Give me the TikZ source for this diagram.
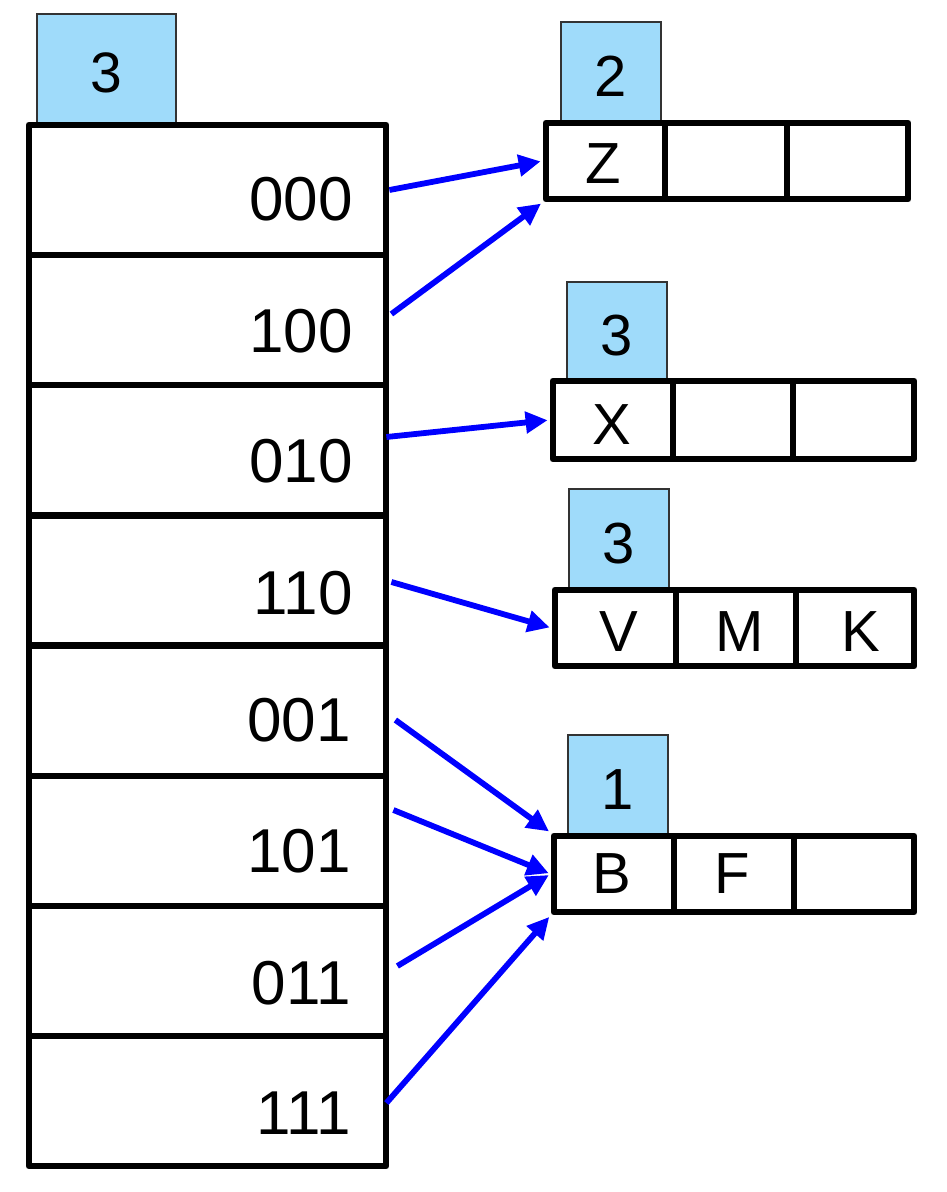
\documentclass[tikz,border=0pt]{standalone}
\usepackage{fontspec}
\setmainfont{Liberation Sans}
\usetikzlibrary{arrows.meta,calc}
\definecolor{depthblue}{HTML}{9FDBFA}
\definecolor{arrowblue}{HTML}{0000FF}
\begin{document}
\begin{tikzpicture}[x=1pt,y=-1pt,
  dirrow/.style={draw=black,line width=6.8pt,line join=round,rectangle,inner sep=0pt,minimum width=357pt,minimum height=130.1pt},
  cellbox/.style={draw=black,line width=6.8pt,line join=round,rectangle,inner sep=0pt,minimum height=76pt},
  depthbox/.style={draw=black!80,fill=depthblue,line width=1.4pt,rectangle,inner sep=0pt},
  dirlabel/.style={anchor=base east,inner sep=0pt,font=\fontsize{62}{62}\selectfont},
  celltext/.style={inner sep=0pt,font=\fontsize{58}{58}\selectfont},
  ptr/.style={draw=arrowblue,line width=5.8pt,-{Triangle[length=22pt,width=21pt]},shorten >=2pt}]
\useasboundingbox (0,0) rectangle (946,1192);

% global depth
\node[depthbox,minimum width=139pt,minimum height=110pt] (gd) at (106.5,69) {};
\node[celltext,font=\fontsize{57}{57}\selectfont] (gdt) at ([yshift=-4pt]gd.center) {3};

% directory
\node[dirrow] (r000) at (207.5,190) {};
\node[dirrow] (r100) at (207.5,320) {};
\node[dirrow] (r010) at (207.5,450) {};
\node[dirrow] (r110) at (207.5,580.5) {};
\node[dirrow] (r001) at (207.5,711) {};
\node[dirrow] (r101) at (207.5,841) {};
\node[dirrow] (r011) at (207.5,971) {};
\node[dirrow] (r111) at (207.5,1101) {};

\node[dirlabel] (l000) at (353,220) {000};
\node[dirlabel] (l100) at (353,352) {100};
\node[dirlabel] (l010) at (353,482) {010};
\node[dirlabel] (l110) at (353,614) {110};
\node[dirlabel] (l001) at (351,741) {001};
\node[dirlabel] (l101) at (351,872) {101};
\node[dirlabel] (l011) at (351,1004) {011};
\node[dirlabel] (l111) at (351,1134) {111};

% bucket Z
\node[depthbox,minimum width=100pt,minimum height=100pt] (dz) at (611,72) {};
\node[celltext] (dzt) at ([yshift=-4pt]dz.center) {2};
\node[cellbox,minimum width=119pt] (z1) at (605.5,161) {};
\node[cellbox,minimum width=122pt] (z2) at (726,161) {};
\node[cellbox,minimum width=121pt] (z3) at (847.5,161) {};
\node[celltext] (zt) at ([xshift=-2pt,yshift=-3pt]z1.center) {Z};

% bucket X
\node[depthbox,minimum width=100pt,minimum height=99pt] (dx) at (617,331.5) {};
\node[celltext] (dxt) at ([yshift=-4pt]dx.center) {3};
\node[cellbox,minimum width=120pt,minimum height=78pt] (x1) at (613,420) {};
\node[cellbox,minimum width=120pt,minimum height=78pt] (x2) at (733,420) {};
\node[cellbox,minimum width=121pt,minimum height=78pt] (x3) at (853.5,420) {};
\node[celltext] (xt) at ([xshift=-1pt,yshift=-5pt]x1.center) {X};

% bucket VMK
\node[depthbox,minimum width=100pt,minimum height=101pt] (dv) at (619,539.5) {};
\node[celltext] (dvt) at ([yshift=-4pt]dv.center) {3};
\node[cellbox,minimum width=121pt] (v1) at (615.5,628) {};
\node[cellbox,minimum width=120pt] (v2) at (736,628) {};
\node[cellbox,minimum width=118pt] (v3) at (855,628) {};
\node[celltext] (vt) at ([xshift=3pt,yshift=-4pt]v1.center) {V};
\node[celltext] (mt) at ([xshift=4pt,yshift=-4pt]v2.center) {M};
\node[celltext] (kt) at ([xshift=6pt,yshift=-4pt]v3.center) {K};

% bucket BF
\node[depthbox,minimum width=100pt,minimum height=101pt] (db) at (618,785.5) {};
\node[celltext] (dbt) at ([yshift=-4pt]db.center) {1};
\node[cellbox,minimum width=120pt] (b1) at (614,874) {};
\node[cellbox,minimum width=120pt] (b2) at (734,874) {};
\node[cellbox,minimum width=120pt] (b3) at (854,874) {};
\node[celltext] (bt) at ([xshift=-2pt]b1.center) {B};
\node[celltext] (ft) at ([xshift=-2pt]b2.center) {F};

% start points of pointers
\coordinate (s000) at (r000.east);
\coordinate (s100) at ([xshift=2pt,yshift=6pt]r100.east);
\coordinate (s010) at ([xshift=-3pt,yshift=13pt]r010.east);
\coordinate (s110) at ([xshift=2pt,yshift=-1.5pt]r110.east);
\coordinate (s001) at ([xshift=6pt,yshift=-9pt]r001.east);
\coordinate (s101) at ([xshift=4pt,yshift=31pt]r101.east);
\coordinate (s011) at ([xshift=8pt,yshift=5pt]r011.east);
\coordinate (s111) at ([xshift=-3pt,yshift=-2pt]r111.east);

% pointers
\draw[ptr] (s000) -- (z1.west);
\draw[ptr] (s100) -- (z1.south west);
\draw[ptr] (s010) -- (x1.west);
\draw[ptr] (s110) -- (v1.west);
\draw[ptr] (s001) -- (b1.north west);
\draw[ptr] (s101) -- (b1.west);
\draw[ptr] (s011) -- (b1.west);
\draw[ptr] (s111) -- (b1.south west);
\end{tikzpicture}
\end{document}
